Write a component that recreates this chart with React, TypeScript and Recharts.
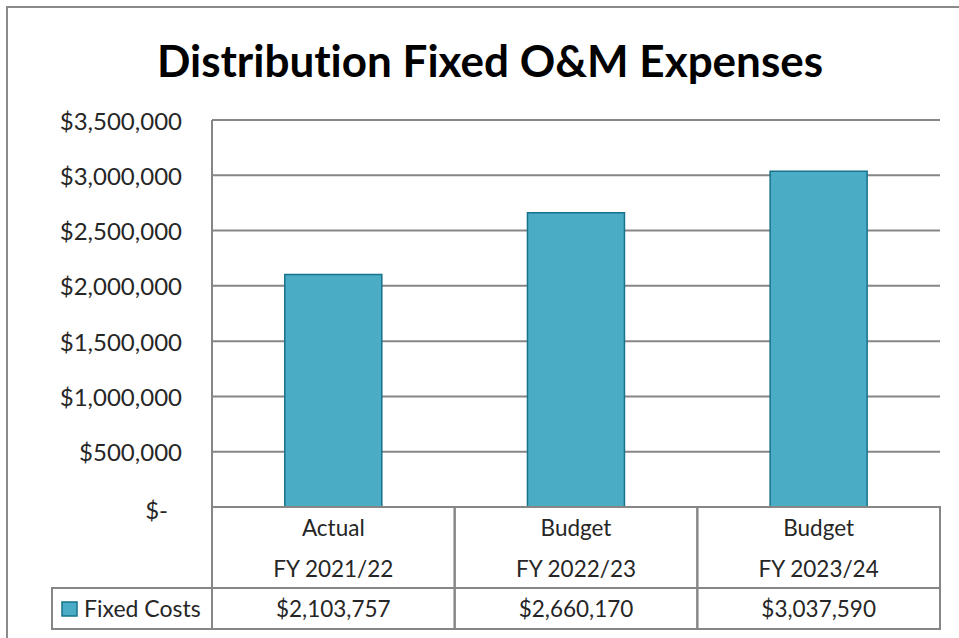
import React from "react";
import { BarChart, Bar, XAxis, YAxis, CartesianGrid } from "recharts";

const categoryTop = ["Actual", "Budget", "Budget"];
const categoryYear = ["FY 2021/22", "FY 2022/23", "FY 2023/24"];
const fixedCosts = [2103757, 2660170, 3037590];
const yTicks = [0, 500000, 1000000, 1500000, 2000000, 2500000, 3000000, 3500000];
const seriesName = "Fixed Costs";

const W = 959;
const H = 638;
const M = { top: 120, right: 19, left: 0, bottom: 0 };
const Y_AXIS_W = 212;
const X_AXIS_H = 131;
const BAND = (W - Y_AXIS_W - M.right) / categoryTop.length;
const ROW1 = 81;
const ROW2 = 41;

const FONT = "Lato, 'Open Sans', sans-serif";
const TEXT = "#262626";
const LINE = "#868686";
const FILL = "#4BACC6";
const EDGE = "#17728C";
const NOLIG = { fontVariantLigatures: "none" as const };

const data = categoryTop.map((c, i) => ({
  key: `${c} ${categoryYear[i]}`,
  top: c,
  year: categoryYear[i],
  value: fixedCosts[i],
}));

const money = (v: number) => "$" + v.toLocaleString("en-US");

const YTick = (props: any) => {
  const { x, y, payload } = props;
  const v = payload.value as number;
  return (
    <text
      x={v === 0 ? x - 14 : x}
      y={y + (v === 0 ? 2 : 0)}
      textAnchor="end"
      dominantBaseline="central"
      fontFamily={FONT}
      fontSize={24}
      fill={TEXT}
    >
      {v === 0 ? "$-" : money(v)}
    </text>
  );
};

const TableTick = (props: any) => {
  const { x, y, index } = props;
  const d = data[index];
  if (!d) return null;
  const half = BAND / 2;
  const txt = { fontFamily: FONT, fontSize: 22.5, fill: TEXT, textAnchor: "middle" as const, dominantBaseline: "central" as const };
  return (
    <g>
      <rect x={x - half} y={y} width={BAND} height={ROW1 + ROW2} fill="none" stroke={LINE} strokeWidth={2} />
      <line x1={x - half} x2={x + half} y1={y + ROW1} y2={y + ROW1} stroke={LINE} strokeWidth={2} />
      <text x={x} y={y + 20} {...txt}>{d.top}</text>
      <text x={x} y={y + 61} {...txt}>{d.year}</text>
      <text x={x} y={y + ROW1 + 20} {...txt}>{money(d.value)}</text>
      {index === 0 && (
        <g>
          <rect x={52} y={y + ROW1} width={x - half - 52} height={ROW2} fill="none" stroke={LINE} strokeWidth={2} />
          <rect x={62} y={y + ROW1 + 14} width={15} height={14} fill={FILL} stroke={EDGE} strokeWidth={1.5} />
          <text x={84} y={y + ROW1 + 20} fontFamily={FONT} fontSize={23} fill={TEXT} dominantBaseline="central">
            {seriesName}
          </text>
        </g>
      )}
    </g>
  );
};

export default function App() {
  return (
    <div style={{ position: "absolute", left: 0, top: 0, width: W, height: H, overflow: "hidden", background: "#fff" }}>
      <div
        style={{
          position: "absolute",
          left: 6,
          top: 6,
          width: 1000,
          height: 700,
          border: "2px solid #8a8a8a",
        }}
      />
      <div
        style={{
          position: "absolute",
          left: 0,
          top: 33,
          width: 980,
          textAlign: "center",
          fontFamily: FONT,
          fontWeight: 700,
          fontSize: 44,
          color: "#000",
          lineHeight: "54px",
          ...NOLIG,
        }}
      >
        Distribution Fixed O&amp;M Expenses
      </div>
      <div style={{ position: "absolute", left: 0, top: 0 }}>
        <BarChart width={W} height={H} data={data} margin={M} barCategoryGap="30%">
          <CartesianGrid vertical={false} stroke={LINE} strokeWidth={2} />
          <XAxis
            dataKey="key"
            height={X_AXIS_H}
            axisLine={{ stroke: LINE, strokeWidth: 2 }}
            tickLine={false}
            tickSize={0}
            tickMargin={0}
            interval={0}
            tick={<TableTick />}
          />
          <YAxis
            width={Y_AXIS_W}
            domain={[0, 3500000]}
            ticks={yTicks}
            axisLine={{ stroke: LINE, strokeWidth: 2 }}
            tickLine={false}
            tickSize={0}
            tickMargin={30}
            tick={<YTick />}
          />
          <Bar dataKey="value" name={seriesName} fill={FILL} stroke={EDGE} strokeWidth={1.5} isAnimationActive={false} />
        </BarChart>
      </div>
    </div>
  );
}
